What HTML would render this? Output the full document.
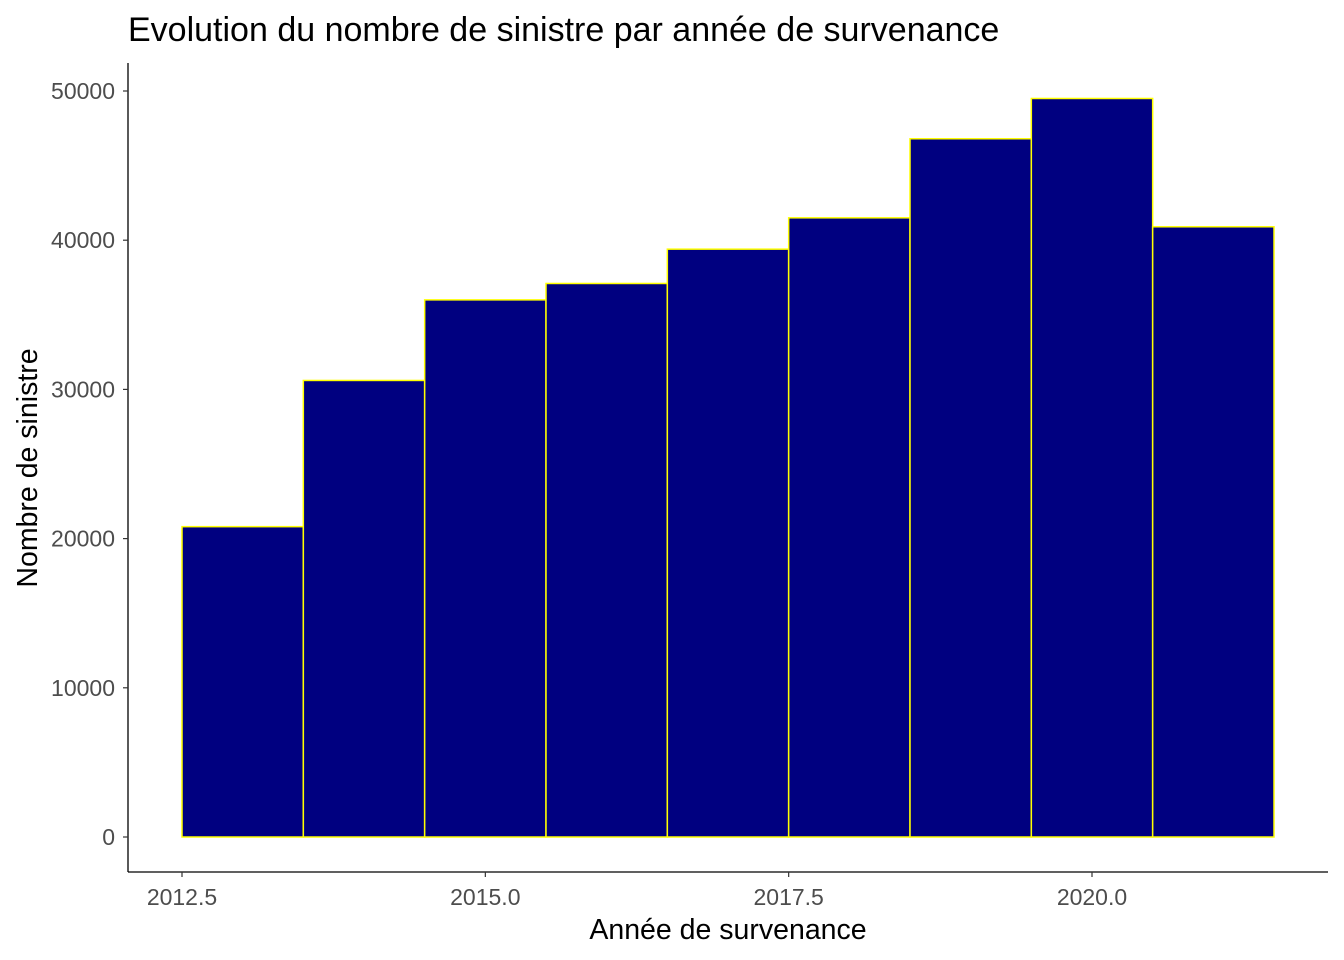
<!DOCTYPE html>
<html><head><meta charset="utf-8"><style>body{margin:0;background:#fff}svg{display:block}text{font-family:"Liberation Sans",Arial,sans-serif}</style></head>
<body>
<svg id="chart" width="1344" height="960" viewBox="0 0 1344 960" xmlns="http://www.w3.org/2000/svg">
<text x="128" y="41" style="font-size:34px" fill="#000">Evolution du nombre de sinistre par année de survenance</text>
<g id="bars"></g>
<line x1="128" y1="63" x2="128" y2="872" stroke="#000" stroke-width="1.3"/>
<line x1="128" y1="872" x2="1328" y2="872" stroke="#000" stroke-width="1.3"/>
<g id="yticks"></g><g id="xticks"></g>
<text x="728" y="939" style="font-size:28.5px" text-anchor="middle">Année de survenance</text>
<text transform="translate(37,468) rotate(-90)" style="font-size:28.5px" text-anchor="middle">Nombre de sinistre</text>
</svg>
<script>
const years = [2013,2014,2015,2016,2017,2018,2019,2020,2021];
const counts = [20800,30600,36000,37100,39400,41500,46800,49500,40900];
const yTicks = [0,10000,20000,30000,40000,50000];
const xTicks = [2012.5,2015.0,2017.5,2020.0];
const xTickLabels = ["2012.5","2015.0","2017.5","2020.0"];
const NS="http://www.w3.org/2000/svg";
function xs(v){return 182+(v-2012.5)*(910/7.5);}
function ys(v){return 837-v*(746/50000);}
function mk(t,a){const e=document.createElementNS(NS,t);for(const k in a)e.setAttribute(k,a[k]);return e;}
const bars=document.getElementById('bars');
years.forEach((yr,i)=>{const x0=xs(yr-0.5),x1=xs(yr+0.5);
 const r=mk('rect',{x:x0,y:ys(counts[i]),width:x1-x0,height:ys(0)-ys(counts[i]),fill:'#000080',stroke:'#ffff00','stroke-width':1.5});
 
 
 bars.appendChild(r);});
const yt=document.getElementById('yticks');
yTicks.forEach(v=>{const l=mk('line',{x1:123,x2:128,y1:ys(v),y2:ys(v),stroke:'#333','stroke-width':1.2});
 
 
 yt.appendChild(l);
 const t=mk('text',{x:115,y:ys(v)+8,'text-anchor':'end',fill:'#4d4d4d',style:'font-size:23px'});t.textContent=String(v);
 
 
 yt.appendChild(t);});
const xt=document.getElementById('xticks');
xTicks.forEach((v,i)=>{const l=mk('line',{x1:xs(v),x2:xs(v),y1:872,y2:877,stroke:'#333','stroke-width':1.2});
 
 
 xt.appendChild(l);
 const t=mk('text',{x:xs(v),y:905,'text-anchor':'middle',fill:'#4d4d4d',style:'font-size:23px'});t.textContent=xTickLabels[i];
 
 
 xt.appendChild(t);});
</script>
</body></html>
